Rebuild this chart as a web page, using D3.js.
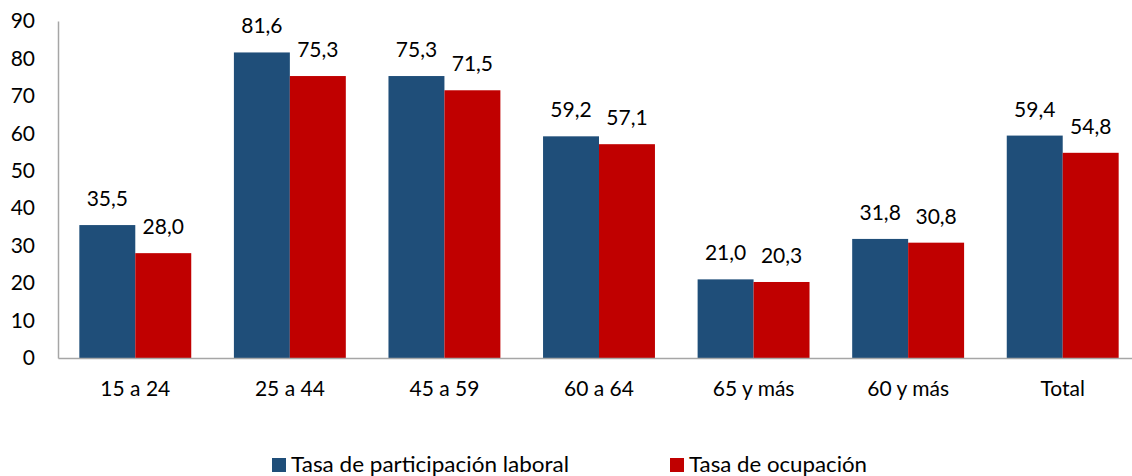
<!DOCTYPE html>
<html><head><meta charset="utf-8">
<script src="https://cdn.jsdelivr.net/npm/d3@7"></script>
<style>body{margin:0;background:#fff}svg{display:block}text{font-family:Lato,"Open Sans",sans-serif;fill:#000}</style>
</head><body>
<svg id="c" width="1132" height="476"></svg>
<script>
const categories = ["15 a 24","25 a 44","45 a 59","60 a 64","65 y más","60 y más","Total"];
const seriesNames = ["Tasa de participación laboral","Tasa de ocupación"];
const participacion = [35.5,81.6,75.3,59.2,21.0,31.8,59.4];
const ocupacion = [28.0,75.3,71.5,57.1,20.3,30.8,54.8];
const yTicks = [0,10,20,30,40,50,60,70,80,90];
const colors = ["#1F4E79","#C00000"];

(function(){
const svg = d3.select("#c");
const mL = 58, mR = 1140, mT = 21, mB = 358;
const x = d3.scaleBand().domain(categories).range([mL,mR]).paddingInner(0.276).paddingOuter(0.138);
const x1 = d3.scaleBand().domain([0,1]).range([0,x.bandwidth()]);
const y = d3.scaleLinear().domain([0,90]).range([mB,mT]);
const fmt = v => d3.format(".1f")(v).replace(".",",");
const fs = 21;

const series = [participacion, ocupacion];
series.forEach((vals,si)=>{
  const g = svg.append("g");
  g.selectAll("rect").data(vals).join("rect")
    .attr("x",(d,i)=>x(categories[i])+x1(si))
    .attr("y",d=>y(d))
    .attr("width",x1.bandwidth())
    .attr("height",d=>y(0)-y(d))
    .attr("fill",colors[si]);
  g.selectAll("text").data(vals).join("text")
    .attr("x",(d,i)=>x(categories[i])+x1(si)+x1.bandwidth()/2)
    .attr("y",d=>y(d)-19)
    .attr("text-anchor","middle")
    .attr("font-size",fs)
    .text(fmt);
});

const ya = svg.append("g").attr("transform",`translate(${mL},0)`)
  .call(d3.axisLeft(y).tickValues(yTicks).tickSize(0).tickPadding(23));
ya.select(".domain").attr("stroke","#A6A6A6").attr("stroke-width",1.5);
ya.selectAll("text").attr("font-size",fs).attr("font-family","Lato");

const xa = svg.append("g").attr("transform",`translate(0,${mB})`)
  .call(d3.axisBottom(x).tickSize(0).tickPadding(23));
xa.select(".domain").attr("stroke","#A6A6A6").attr("stroke-width",1.5);
xa.selectAll("text").attr("font-size",fs).attr("font-family","Lato");

const legX = [272, 670];
const legW = [278, 178];
seriesNames.forEach((n,i)=>{
  svg.append("rect").attr("x",legX[i]).attr("y",458).attr("width",14).attr("height",14).attr("fill",colors[i]);
  svg.append("text").attr("x",legX[i]+19).attr("y",472).attr("font-size",fs)
    .attr("textLength",legW[i]).attr("lengthAdjust","spacingAndGlyphs").text(n);
});
})();
</script>
</body></html>
